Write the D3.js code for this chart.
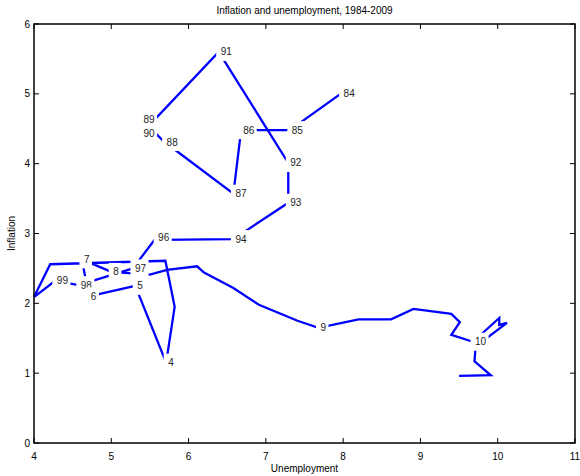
<!DOCTYPE html>
<html><head><meta charset="utf-8">
<script src="https://cdn.jsdelivr.net/npm/d3@7"></script>
<style>body{margin:0;background:#fff}</style>
</head><body><svg id="c" width="580" height="476"></svg>
<script>
// Path points (annual to 2008, finer after); label "" = unlabeled
const pointLabels = ["84","85","86","87","88","89","90","91","92","93","94","","96","97","98","99",
  "","","","","4","5","6","7","8",
  "","","","","","","",
  "9","","","","","","",
  "10","","","","","","","",""];
const unemployment = [7.98,7.31,6.68,6.58,5.69,5.39,5.39,6.39,7.29,7.29,6.58,5.61,5.58,5.28,4.58,4.27,
  4.00,4.21,5.70,5.82,5.71,5.31,4.71,4.62,5.00,
  5.50,5.72,6.11,6.20,6.58,6.91,7.41,
  7.68,8.20,8.62,8.91,9.40,9.51,9.40,
  9.68,10.02,10.02,10.12,9.76,9.71,9.70,9.91,9.50];
const inflation = [5.01,4.48,4.48,3.57,4.31,4.63,4.43,5.60,4.01,3.44,2.92,2.91,2.94,2.50,2.26,2.32,
  2.09,2.56,2.61,1.95,1.15,2.25,2.10,2.63,2.45,
  2.41,2.48,2.53,2.44,2.22,1.98,1.75,
  1.65,1.77,1.77,1.92,1.85,1.73,1.55,
  1.45,1.79,1.69,1.72,1.42,1.33,1.17,0.97,0.96];
const xTicks = [4,5,6,7,8,9,10,11];
const yTicks = [0,1,2,3,4,5,6];
const titleText = "Inflation and unemployment, 1984-2009";
const xLabel = "Unemployment";
const yLabel = "Inflation";

const svg = d3.select("#c");
const L = 34, R = 575, T = 24, B = 443;
const x = d3.scaleLinear().domain([4, 11]).range([L, R]);
const y = d3.scaleLinear().domain([0, 6]).range([B, T]);
const font = "'Liberation Sans', Arial, sans-serif";

svg.append("rect").attr("width", 580).attr("height", 476).attr("fill", "#fff");

const pts = unemployment.map((u, i) => ({u, v: inflation[i], lab: pointLabels[i]}));

svg.append("path")
  .datum(pts)
  .attr("fill", "none")
  .attr("stroke", "#0000ff")
  .attr("stroke-width", 2.3)
  .attr("stroke-linejoin", "miter")
  .attr("d", d3.line().x(d => x(d.u)).y(d => y(d.v)));

// point labels with white background
const labs = svg.append("g");
pts.filter(d => d.lab !== "").forEach(d => {
  const g = labs.append("g");
  const r = g.append("rect").attr("fill", "#fff");
  const t = g.append("text")
    .attr("x", x(d.u) + 2).attr("y", y(d.v))
    .attr("dy", "0.35em")
    .attr("font-family", font).attr("font-size", 10)
    .attr("fill", "#222")
    .text(d.lab);
  const w = t.node().getComputedTextLength();
  r.attr("x", x(d.u) - 2.5).attr("y", y(d.v) - 9).attr("width", w + 7).attr("height", 18);
});

// axes box
const ax = svg.append("g");
ax.append("rect").attr("x", L).attr("y", T).attr("width", R - L).attr("height", B - T)
  .attr("fill", "none").attr("stroke", "#000").attr("stroke-width", 1.5);

const tl = 5;
xTicks.forEach(v => {
  ax.append("line").attr("x1", x(v)).attr("x2", x(v)).attr("y1", B).attr("y2", B - tl).attr("stroke", "#000");
  ax.append("line").attr("x1", x(v)).attr("x2", x(v)).attr("y1", T).attr("y2", T + tl).attr("stroke", "#000");
  ax.append("text").attr("x", x(v)).attr("y", 460).attr("text-anchor", "middle")
    .attr("font-family", font).attr("font-size", 10).attr("fill", "#000").text(v);
});
yTicks.forEach(v => {
  ax.append("line").attr("x1", L).attr("x2", L + tl).attr("y1", y(v)).attr("y2", y(v)).attr("stroke", "#000");
  ax.append("line").attr("x1", R).attr("x2", R - tl).attr("y1", y(v)).attr("y2", y(v)).attr("stroke", "#000");
  ax.append("text").attr("x", L - 4).attr("y", y(v)).attr("dy", "0.35em").attr("text-anchor", "end")
    .attr("font-family", font).attr("font-size", 10).attr("fill", "#000").text(v);
});

svg.append("text").attr("x", (L + R) / 2).attr("y", 14).attr("text-anchor", "middle")
  .attr("font-family", font).attr("font-size", 10).attr("fill", "#000").text(titleText);
svg.append("text").attr("x", (L + R) / 2).attr("y", 472).attr("text-anchor", "middle")
  .attr("font-family", font).attr("font-size", 10).attr("fill", "#000").text(xLabel);
svg.append("text").attr("transform", `translate(15,${(T + B) / 2}) rotate(-90)`).attr("text-anchor", "middle")
  .attr("font-family", font).attr("font-size", 10).attr("fill", "#000").text(yLabel);
</script></body></html>
